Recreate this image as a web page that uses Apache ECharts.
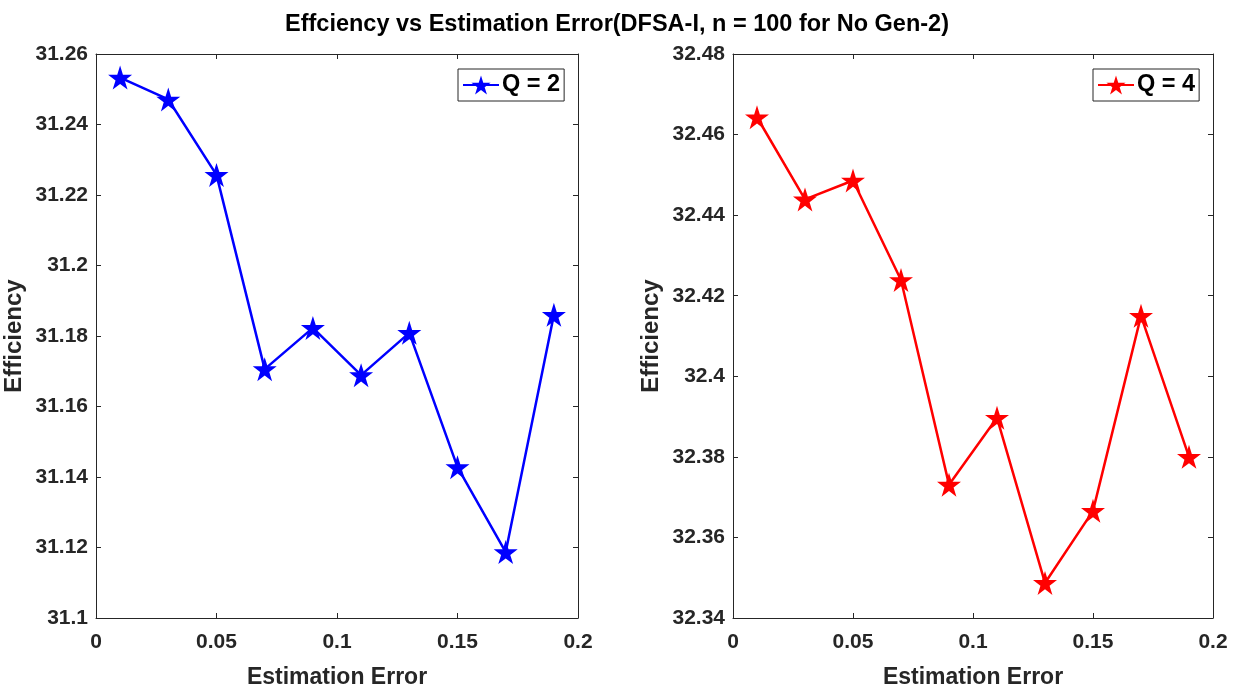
<!DOCTYPE html>
<html><head><meta charset="utf-8">
<script src="https://cdn.jsdelivr.net/npm/echarts@6/dist/echarts.min.js"></script>
<style>html,body{margin:0;padding:0;background:#fff}#c{width:1234px;height:687px}</style>
</head><body><div id="c"></div>
<script>
const titleText = 'Effciency vs Estimation Error(DFSA-I, n = 100 for No Gen-2)';
const xValues = [0.01, 0.03, 0.05, 0.07, 0.09, 0.11, 0.13, 0.15, 0.17, 0.19];
const q2Values = [31.2533, 31.2471, 31.2257, 31.1706, 31.1823, 31.1689, 31.1809, 31.1428, 31.1187, 31.1860];
const q4Values = [32.4643, 32.4439, 32.4486, 32.4239, 32.3731, 32.3897, 32.3487, 32.3666, 32.4150, 32.3800];
const seriesNames = ['Q = 2', 'Q = 4'];
const xLabel = 'Estimation Error';
const yLabel = 'Efficiency';

const star = 'path://M50,0L61.23,34.55L97.55,34.55L68.17,55.9L79.39,90.45L50,69.1L20.61,90.45L31.83,55.9L2.45,34.55L38.77,34.55Z';
const axisCol = '#262626';
const font = '"Liberation Sans", Arial, sans-serif';

function pairs(xs, ys){ return xs.map((x,i)=>[x, ys[i]]); }

function xAx(grid, show){
  return {
    type:'value', gridIndex:grid, min:0, max:0.2, interval:0.05,
    position: show ? 'bottom' : 'top',
    name: show ? xLabel : '', nameLocation:'middle', nameGap:48,
    nameTextStyle:{fontFamily:font, fontWeight:'bold', fontSize:23, color:axisCol},
    axisLine:{show:true, onZero:false, lineStyle:{color:axisCol, width:1}},
    axisTick:{show:true, inside:true, length:5, lineStyle:{color:axisCol}},
    axisLabel:{show:show, margin:14, fontFamily:font, fontWeight:'bold', fontSize:21, color:axisCol,
      formatter: v => String(+v.toFixed(2))},
    splitLine:{show:false}
  };
}
function yAx(grid, show, min, max){
  return {
    type:'value', gridIndex:grid, min:min, max:max, interval:0.02,
    position: show ? 'left' : 'right',
    name: show ? yLabel : '', nameLocation:'middle', nameGap:70, nameRotate:90,
    nameTextStyle:{fontFamily:font, fontWeight:'bold', fontSize:24, color:axisCol},
    axisLine:{show:true, onZero:false, lineStyle:{color:axisCol, width:1}},
    axisTick:{show:true, inside:true, length:5, lineStyle:{color:axisCol}},
    axisLabel:{show:show, margin:8, fontFamily:font, fontWeight:'bold', fontSize:21, color:axisCol,
      formatter: v => String(+v.toFixed(2))},
    splitLine:{show:false}
  };
}

function legendAt(name, left){
  return {data:[name], left:left, top:69, orient:'vertical', itemWidth:36, itemHeight:24, itemGap:0,
    padding:[4,4,4,4], borderColor:'#262626', borderWidth:1, backgroundColor:'#fff',
    textStyle:{fontFamily:font, fontWeight:'bold', fontSize:23.5, color:'#000', padding:[0,0,0,-2]}};
}

const chart = echarts.init(document.getElementById('c'), null, {renderer:'canvas'});
chart.setOption({
  backgroundColor:'#fff',
  animation:false,
  title:{text:titleText, left:'center', top:8,
    textStyle:{fontFamily:font, fontWeight:'bold', fontSize:23.5, color:'#000'}},
  grid:[
    {left:96, right:656, top:54, bottom:69, containLabel:false, outerBoundsMode:'none'},
    {left:733, right:21, top:54, bottom:69, containLabel:false, outerBoundsMode:'none'}
  ],
  xAxis:[xAx(0,true), xAx(0,false), xAx(1,true), xAx(1,false)],
  yAxis:[yAx(0,true,31.1,31.26), yAx(0,false,31.1,31.26), yAx(1,true,32.34,32.48), yAx(1,false,32.34,32.48)],
  legend:[legendAt(seriesNames[0], 458), legendAt(seriesNames[1], 1093)],
  series:[
    {name:seriesNames[0], type:'line', xAxisIndex:0, yAxisIndex:0, data:pairs(xValues,q2Values),
      symbol:star, symbolSize:24, color:'#0000ff',
      lineStyle:{color:'#0000ff', width:2.5}, itemStyle:{color:'#0000ff'}},
    {name:seriesNames[1], type:'line', xAxisIndex:2, yAxisIndex:2, data:pairs(xValues,q4Values),
      symbol:star, symbolSize:24, color:'#ff0000',
      lineStyle:{color:'#ff0000', width:2.5}, itemStyle:{color:'#ff0000'}}
  ]
});
</script></body></html>
